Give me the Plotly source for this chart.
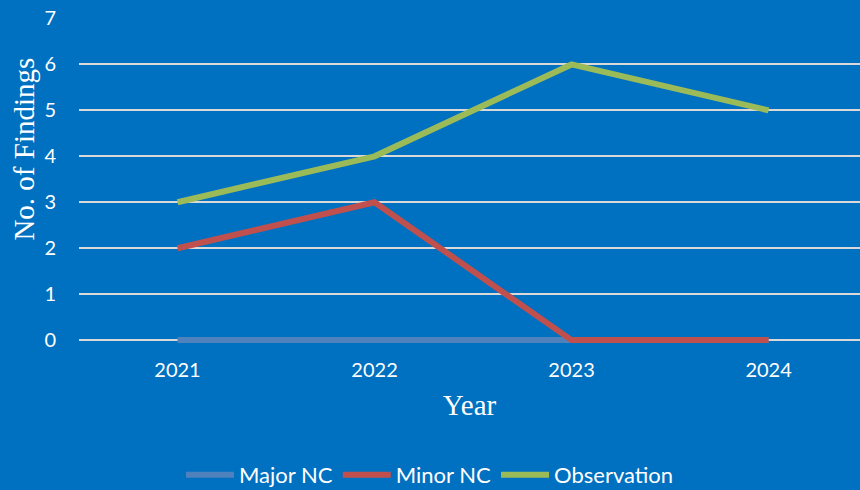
import plotly.graph_objects as go

years = ["2021", "2022", "2023", "2024"]
major_nc = [0, 0, 0, 0]
minor_nc = [2, 3, 0, 0]
observation = [3, 4, 6, 5]
y_ticks = [0, 1, 2, 3, 4, 5, 6, 7]

fig = go.Figure()
fig.add_trace(go.Scatter(x=years, y=major_nc, mode="lines", name="Major NC",
                         line=dict(color="#4F81BD", width=6)))
fig.add_trace(go.Scatter(x=years, y=minor_nc, mode="lines", name="Minor NC",
                         line=dict(color="#C0504D", width=6)))
fig.add_trace(go.Scatter(x=years, y=observation, mode="lines", name="Observation",
                         line=dict(color="#9BBB59", width=6)))

fig.update_layout(
    width=860, height=490,
    paper_bgcolor="#0070C0", plot_bgcolor="#0070C0",
    margin=dict(l=79, r=0, t=18, b=143, autoexpand=False),
    font=dict(family="Lato, sans-serif", color="white", size=20),
    showlegend=True,
    legend=dict(orientation="h", x=0.5, xanchor="center", xref="container",
                y=15 / 490, yanchor="middle", yref="container",
                font=dict(size=22, color="white"), itemwidth=48,
                bgcolor="rgba(0,0,0,0)"),
    xaxis=dict(
        type="category", range=[-0.5, 3.464],
        showgrid=False, zeroline=False, showline=False,
        ticks="", ticklabelstandoff=9, tickfont=dict(size=20, color="white"),
        title=dict(text="Year", font=dict(family="Liberation Serif, serif", size=29, color="white"), standoff=14),
    ),
    yaxis=dict(
        range=[-0.15, 7.01], tickvals=y_ticks, showgrid=True, gridcolor="#D9D9D9", gridwidth=2,
        zeroline=False, showline=False, ticks="", ticklabelstandoff=22,
        tickfont=dict(size=20, color="white"),
    ),
    annotations=[dict(
        text="No. of Findings", textangle=-90, showarrow=False,
        xref="paper", yref="paper", x=(24 - 79) / 781, y=0.6,
        xanchor="center", yanchor="middle",
        font=dict(family="Liberation Serif, serif", size=29, color="white"),
    )],
)

fig.write_html("out.html", config={"displayModeBar": False},
               post_script="document.body.style.margin='0';")
